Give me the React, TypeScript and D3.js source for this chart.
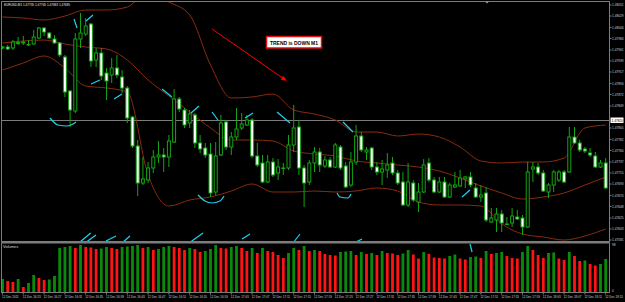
import React from 'react';
import * as d3 from 'd3';

const opens = [1.47965,1.47967,1.47965,1.47974,1.47975,1.47971,1.47973,1.47985,1.48005,1.47995,1.47983,1.47975,1.47947,1.47879,1.47839,1.47983,1.47993,1.48013,1.47941,1.47955,1.47915,1.47911,1.47925,1.47907,1.47885,1.47827,1.47769,1.47695,1.47701,1.47725,1.47747,1.47751,1.47747,1.47777,1.47863,1.47841,1.47815,1.47831,1.47775,1.47765,1.47753,1.47677,1.47751,1.47817,1.47767,1.47787,1.47805,1.47811,1.47821,1.47749,1.47735,1.47697,1.47737,1.47715,1.47724,1.47725,1.47771,1.47807,1.47725,1.47697,1.47735,1.47757,1.47729,1.47741,1.47727,1.47767,1.47729,1.47691,1.47737,1.47789,1.47757,1.47765,1.47727,1.47717,1.47721,1.47735,1.47715,1.47697,1.47651,1.47695,1.47657,1.47677,1.47735,1.47701,1.47677,1.47697,1.47667,1.47687,1.47689,1.47703,1.47707,1.47685,1.47667,1.47675,1.47617,1.47621,1.47633,1.47612,1.47615,1.47627,1.47625,1.47607,1.47723,1.47727,1.47715,1.47677,1.47691,1.47701,1.47717,1.47717,1.47787,1.47775,1.47763,1.47755,1.47749,1.47727,1.47735];
const highs = [1.47969,1.47971,1.47981,1.47987,1.47989,1.47981,1.48001,1.48007,1.48007,1.47997,1.47991,1.47977,1.47951,1.47881,1.47995,1.48035,1.48025,1.48015,1.47965,1.47965,1.47925,1.47945,1.47951,1.47921,1.47889,1.47829,1.47781,1.47747,1.47737,1.47761,1.47779,1.47765,1.47791,1.47883,1.47867,1.47845,1.47841,1.47835,1.47791,1.47775,1.47775,1.47777,1.47831,1.47821,1.47797,1.47845,1.47835,1.47831,1.47825,1.47775,1.47751,1.47751,1.47745,1.47743,1.47735,1.47791,1.47851,1.47821,1.47731,1.47741,1.47767,1.47765,1.47749,1.47747,1.47775,1.47771,1.47737,1.47757,1.47811,1.47797,1.47767,1.47767,1.47737,1.47741,1.47755,1.47747,1.47721,1.47717,1.47735,1.47701,1.47695,1.47743,1.47745,1.47707,1.47707,1.47707,1.47695,1.47717,1.47721,1.47709,1.47717,1.47695,1.47691,1.47687,1.47645,1.47645,1.47641,1.47627,1.47645,1.47641,1.47631,1.47737,1.47737,1.47735,1.47721,1.47695,1.47721,1.47721,1.47721,1.47807,1.47807,1.47781,1.47767,1.47765,1.47757,1.47741,1.47745];
const lows = [1.47963,1.47961,1.47961,1.47971,1.47971,1.47969,1.47971,1.47983,1.47989,1.47983,1.47973,1.47947,1.47867,1.47807,1.47835,1.47965,1.47989,1.47927,1.47927,1.47901,1.47861,1.47895,1.47905,1.47875,1.47815,1.47765,1.47669,1.47691,1.47695,1.47715,1.47735,1.47717,1.47727,1.47775,1.47837,1.47805,1.47805,1.47765,1.47755,1.47745,1.47667,1.47671,1.47749,1.47761,1.47751,1.47781,1.47801,1.47809,1.47745,1.47727,1.47695,1.47695,1.47707,1.47701,1.47711,1.47721,1.47757,1.47711,1.47647,1.47691,1.47717,1.47717,1.47725,1.47725,1.47725,1.47721,1.47685,1.47687,1.47731,1.47757,1.47741,1.47721,1.47711,1.47691,1.47705,1.47711,1.47691,1.47649,1.47647,1.47657,1.47637,1.47675,1.47697,1.47675,1.47675,1.47665,1.47665,1.47685,1.47687,1.47685,1.47687,1.47665,1.47657,1.47617,1.47615,1.47597,1.47597,1.47611,1.47607,1.47621,1.47591,1.47605,1.47697,1.47711,1.47677,1.47665,1.47677,1.47697,1.47695,1.47715,1.47773,1.47757,1.47755,1.47747,1.47725,1.47725,1.47683];
const closes = [1.47967,1.47963,1.47977,1.47976,1.47977,1.47972,1.47987,1.48005,1.47997,1.47985,1.47975,1.47951,1.47877,1.47841,1.47983,1.47995,1.48009,1.47939,1.47955,1.47909,1.47899,1.47925,1.47911,1.47885,1.47825,1.47769,1.47695,1.47703,1.47725,1.47747,1.47751,1.47747,1.47779,1.47863,1.47843,1.47811,1.47833,1.47775,1.47763,1.47751,1.47675,1.47749,1.47815,1.47767,1.47787,1.47803,1.47813,1.47821,1.47749,1.47731,1.47697,1.47737,1.47711,1.47727,1.47725,1.47771,1.47805,1.47725,1.47695,1.47735,1.47757,1.47731,1.47741,1.47727,1.47771,1.47725,1.47687,1.47737,1.47789,1.47761,1.47761,1.47727,1.47717,1.47723,1.47731,1.47715,1.47695,1.47651,1.47697,1.47661,1.47677,1.47731,1.47701,1.47677,1.47697,1.47667,1.47691,1.47691,1.47705,1.47707,1.47691,1.47667,1.47671,1.47621,1.47625,1.47633,1.47615,1.47613,1.47629,1.47623,1.47607,1.47717,1.47727,1.47715,1.47679,1.47691,1.47717,1.47717,1.47697,1.47787,1.47775,1.47761,1.47759,1.47751,1.47727,1.47735,1.47685];
const volumes = [26,22,20,26,10,18,34,28,24,25,32,88,90,92,88,94,90,89,86,87,90,88,86,90,91,92,94,88,90,84,86,90,92,90,88,84,88,86,80,82,86,94,88,87,90,92,88,82,88,78,88,82,80,74,68,78,88,84,92,82,84,82,76,74,73,80,81,82,74,80,76,78,74,82,78,77,74,77,84,75,67,80,76,69,68,67,72,75,67,65,70,71,68,82,76,78,80,72,68,67,80,92,84,74,68,78,79,67,64,80,72,62,63,56,53,56,66];

const bandBars = [0,4,8,12,16,20,24,28,32,36,40,44,48,52,56,60,64,68,72,76,80,84,88,92,96,100,104,108,112,116];
const bbUpper = [1.48027,1.48025,1.48021,1.48029,1.48041,1.48041,1.48047,1.48077,1.48057,1.48031,1.47931,1.47865,1.47867,1.47873,1.47841,1.47833,1.47821,1.47797,1.47797,1.47789,1.47793,1.47787,1.47767,1.47739,1.47735,1.47737,1.47737,1.47745,1.47805,1.47811];
const bbMiddle = [1.47975,1.47979,1.47981,1.47973,1.47967,1.47963,1.47941,1.47901,1.47869,1.47837,1.47805,1.47781,1.47781,1.47779,1.47759,1.47753,1.47749,1.47739,1.47735,1.47731,1.47727,1.47719,1.47705,1.47689,1.47675,1.47663,1.47667,1.47675,1.47691,1.47707];
const bbLower = [1.47921,1.47935,1.47949,1.47925,1.47889,1.47885,1.47877,1.47711,1.47649,1.47661,1.47667,1.47679,1.47693,1.47677,1.47677,1.47679,1.47677,1.47679,1.47685,1.47679,1.47657,1.47651,1.47651,1.47649,1.47613,1.47593,1.47587,1.47581,1.47589,1.47603];

// cyan indicator strokes: [bar, price] polylines
const cyanMarks: [number, number][][] = [
  [[9.13,1.47825],[10.67,1.47811],[12.4,1.47809],[13.56,1.47813],[14.13,1.47817]],
  [[13.75,1.48023],[14.33,1.48005]],
  [[16.06,1.48019],[17.4,1.48031]],
  [[17.02,1.47893],[18.75,1.47901]],
  [[21.44,1.47863],[22.98,1.47873]],
  [[30.67,1.47883],[32.6,1.47867]],
  [[36.25,1.47835],[37.79,1.47849]],
  [[37.6,1.47671],[38.94,1.47659],[40.29,1.47655],[41.83,1.47659],[42.6,1.47669]],
  [[40.29,1.47837],[41.44,1.47821]],
  [[46.63,1.47825],[48.17,1.47835]],
  [[52.79,1.47837],[55.29,1.47815]],
  [[65.48,1.47817],[67.4,1.47797]],
  [[64.33,1.47675],[64.9,1.47667],[66.44,1.47665],[67.02,1.47673]],
  [[88.37,1.47667],[89.9,1.47681]],
  [[14.9,1.47577],[16.96,1.47595]],
  [[15.87,1.47575],[17.98,1.47591]],
  [[19.9,1.47579],[21.83,1.47589]],
  [[22.98,1.47575],[24.52,1.47589]],
  [[35.87,1.47575],[38.56,1.47595]],
  [[46.06,1.47583],[47.6,1.47593]],
  [[55.87,1.47575],[57.21,1.47593]],
  [[67.98,1.47577],[69.13,1.47583]],
];
const cyanVolMarks: [number, number][][] = [[[89.9, 96],[90.3, 80]]];

const hLinePrice = 1.4782;
const arrowFrom: [number, number] = [40.3, 1.48003];
const arrowTo: [number, number] = [54.7, 1.47899];

const priceTicks = [1.48051,1.48029,1.48006,1.47984,1.47961,1.47939,1.47917,1.47894,1.47872,1.47849,1.47827,1.47805,1.47782,1.4776,1.47737,1.47715,1.47693,1.4767,1.47648,1.47625,1.47603,1.47581];
const timeLabels = ['12 Dec 2011','12 Dec 16:23','12 Dec 16:27','12 Dec 16:31','12 Dec 16:35','12 Dec 16:39','12 Dec 16:43','12 Dec 16:47','12 Dec 16:51','12 Dec 16:55','12 Dec 16:59','12 Dec 17:03','12 Dec 17:07','12 Dec 17:11','12 Dec 17:15','12 Dec 17:19','12 Dec 17:23','12 Dec 17:27','12 Dec 17:31','12 Dec 17:35','12 Dec 17:39','12 Dec 17:43','12 Dec 17:47','12 Dec 17:51','12 Dec 17:55','12 Dec 17:59','12 Dec 18:03','12 Dec 18:07','12 Dec 18:11','12 Dec 18:15'];
const timeLabelBars = timeLabels.map((_, k) => k * 4);
const volTickMax = 98;

const FONT = '"Liberation Sans", Arial, sans-serif';
const GREEN = '#12a612';
const BAND = '#8a2b0e';
const CYAN = '#1fd2f0';
const GREY = '#7c7c7c';

export default function App() {
  const W = 625, H = 302;
  const paneL = 1.5, paneR = 609.5, mainT = 1.5, mainB = 241.5, volT = 243, volB = 292.5;
  const x = d3.scaleLinear().domain([0, 116]).range([2.5, 605.7]);
  const y = d3.scaleLinear().domain([1.48061, 1.47561]).range([0, 250]);
  const yv = d3.scaleLinear().domain([0, volTickMax]).range([292, 243]);

  const bandLine = d3.line<number>()
    .x((_, i) => x(bandBars[i]))
    .y(d => y(d))
    .curve(d3.curveMonotoneX);
  const polyLine = d3.line<[number, number]>().x(d => x(d[0])).y(d => y(d[1])).curve(d3.curveMonotoneX);
  const volPoly = d3.line<[number, number]>().x(d => x(d[0])).y(d => yv(d[1]));

  const ax1 = x(arrowFrom[0]), ay1 = y(arrowFrom[1]), ax2 = x(arrowTo[0]), ay2 = y(arrowTo[1]);
  const ang = Math.atan2(ay2 - ay1, ax2 - ax1);
  const ah = 6, aw = 2.2;
  const head = [
    [ax2, ay2],
    [ax2 - ah * Math.cos(ang) + aw * Math.sin(ang), ay2 - ah * Math.sin(ang) - aw * Math.cos(ang)],
    [ax2 - ah * Math.cos(ang) - aw * Math.sin(ang), ay2 - ah * Math.sin(ang) + aw * Math.cos(ang)],
  ].map(p => p.join(',')).join(' ');

  const hY = y(hLinePrice);
  const visibleTicks = priceTicks.filter(p => Math.abs(y(p) - hY) > 5.5);

  return (
    <svg width={W} height={H} style={{ position: 'absolute', left: 0, top: 0, background: '#000' }}>
      <defs>
        <clipPath id="mainClip"><rect x={2} y={2} width={607} height={239} /></clipPath>
        <clipPath id="volClip"><rect x={2} y={243} width={607} height={49} /></clipPath>
      </defs>
      <rect x={0} y={0} width={W} height={H} fill="#000" />

      {/* main pane */}
      <g clipPath="url(#mainClip)">
        <line x1={paneL} x2={paneR} y1={hY} y2={hY} stroke={GREY} strokeWidth={1} />
        {[bbUpper, bbMiddle, bbLower].map((b, k) => (
          <path key={k} d={bandLine(b) || ''} fill="none" stroke={BAND} strokeWidth={1} />
        ))}
        {opens.map((o, i) => {
          const c = closes[i];
          const cx = x(i);
          const bull = c >= o;
          const top = y(Math.max(o, c));
          const bot = y(Math.min(o, c));
          return (
            <g key={i}>
              <line x1={cx} x2={cx} y1={y(highs[i])} y2={y(lows[i])} stroke={GREEN} strokeWidth={1} />
              <rect x={cx - 1.5} y={top} width={3} height={Math.max(bot - top, 0.3)}
                fill={bull ? '#000' : '#fff'} stroke={GREEN} strokeWidth={1} />
            </g>
          );
        })}
        <line x1={ax1} y1={ay1} x2={ax2 - 4 * Math.cos(ang)} y2={ay2 - 4 * Math.sin(ang)} stroke="#ff0000" strokeWidth={1} />
        <polygon points={head} fill="#ff0000" />
      </g>
      {cyanMarks.map((m, k) => (
        <path key={k} d={polyLine(m) || ''} fill="none" stroke={CYAN} strokeWidth={1.2} />
      ))}

      {/* trend label */}
      <rect x={266.5} y={36.5} width={55} height={11.5} fill="#fff" stroke="#e01010" strokeWidth={1.5} />
      <text x={294} y={44.6} textAnchor="middle" fontFamily={FONT} fontWeight="bold" fontSize={5.6}
        textLength={48} lengthAdjust="spacingAndGlyphs" fill="#000">TREND is DOWN M1</text>

      {/* title */}
      <text x={4} y={6.2} fontFamily={FONT} fontSize={4.2} fill="#e8e8e8" textLength={66} lengthAdjust="spacingAndGlyphs">
        EURUSD,M1  1.47735 1.47745 1.47683 1.47685
      </text>

      {/* volume pane */}
      <g clipPath="url(#volClip)">
        {volumes.map((v, i) => {
          const up = i === 0 || v > volumes[i - 1];
          return (
            <rect key={i} x={x(i) - 1.4} y={yv(v)} width={2.8} height={yv(0) - yv(v)}
              fill={up ? '#0a8a0a' : '#ff1414'} />
          );
        })}
        {cyanVolMarks.map((m, k) => (
          <path key={k} d={volPoly(m) || ''} fill="none" stroke={CYAN} strokeWidth={1.2} />
        ))}
      </g>
      <text x={3} y={247.5} fontFamily={FONT} fontSize={4} fill="#d8d8d8">Volumes</text>

      {/* frames */}
      <rect x={paneL} y={mainT} width={paneR - paneL} height={mainB - mainT} fill="none" stroke={GREY} strokeWidth={1} />
      <line x1={paneL} x2={paneR} y1={242.2} y2={242.2} stroke={GREY} strokeWidth={1.6} />
      <rect x={paneL} y={volT} width={paneR - paneL} height={volB - volT} fill="none" stroke={GREY} strokeWidth={1} />
      <polygon points="485,1.5 489,1.5 487,3.5" fill="#9a9a9a" />

      {/* price axis */}
      {visibleTicks.map((p, k) => (
        <g key={k}>
          <line x1={paneR} x2={paneR + 2} y1={y(p)} y2={y(p)} stroke={GREY} strokeWidth={1} />
          <text x={612} y={y(p) + 1.3} fontFamily={FONT} fontSize={3.2} fill="#cfcfcf">{p.toFixed(5)}</text>
        </g>
      ))}
      <rect x={610.5} y={hY - 3} width={13} height={5.5} fill="#fff" />
      <text x={611.5} y={hY + 1.3} fontFamily={FONT} fontSize={3.2} fill="#000">{hLinePrice.toFixed(5)}</text>

      {/* volume axis */}
      <text x={612} y={246} fontFamily={FONT} fontSize={3.2} fill="#cfcfcf">{volTickMax}</text>
      <text x={612} y={292} fontFamily={FONT} fontSize={3.2} fill="#cfcfcf">0</text>

      {/* time axis */}
      {timeLabels.map((t, k) => {
        const tx = x(timeLabelBars[k]);
        return (
          <g key={k}>
            <line x1={tx} x2={tx} y1={volB} y2={volB + 2} stroke={GREY} strokeWidth={1} />
            <text x={tx - 0.5} y={298.3} fontFamily={FONT} fontSize={3} fill="#d0d0d0">{t}</text>
          </g>
        );
      })}
    </svg>
  );
}
